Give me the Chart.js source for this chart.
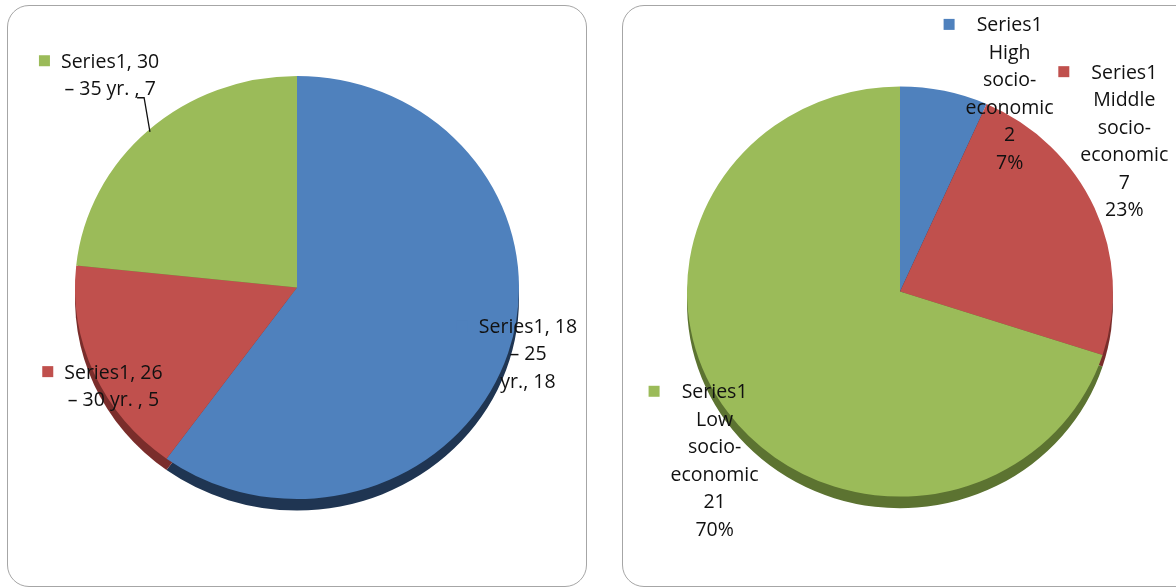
<!DOCTYPE html>
<html lang="en">
<head>
<meta charset="UTF-8">
<title>Pie charts</title>
<script src="https://cdn.jsdelivr.net/npm/chart.js"></script>
<style>
    body { margin: 0; width: 1176px; height: 587px; overflow: hidden; background: #fff; position: relative; }
    .box {
        position: absolute;
        top: 5px;
        height: 580px;
        border: 1.5px solid #a6a6a6;
        border-radius: 22px;
        background: #fff;
    }
    #boxLeft { left: 7px; width: 578px; }
    #boxRight { left: 622px; width: 580px; }
    .box canvas { position: absolute; left: 0; top: 0; }
</style>
</head>
<body>
<div class="box" id="boxLeft"><canvas id="ageChart" width="578" height="580"></canvas></div>
<div class="box" id="boxRight"><canvas id="sesChart" width="580" height="580"></canvas></div>

<script>
    const seriesName = 'Series1';
    const ageCategories = ['18 – 25 yr.', '26 – 30 yr.', '30 – 35 yr.'];
    const ageValues = [18, 5, 7];
    // data labels wrapped the way the original shows them
    const ageLabelLines = [
        ['Series1, 18', '– 25', 'yr., 18'],
        ['Series1, 26', '– 30 yr. , 5'],
        ['Series1, 30', '– 35 yr. , 7']
    ];
    const sesCategories = ['High socio-economic', 'Middle socio-economic', 'Low socio-economic'];
    const sesValues = [2, 7, 21];
    const sliceColors = ['#4F81BD', '#C0504D', '#9BBB59'];
    const rimColors = ['#1F3552', '#7A2D2B', '#5C7331'];

    const FONT = '500 19.5px "Open Sans", sans-serif';
    const LINE_H = 27.5;

    function sesLines(i) {
        const total = sesValues.reduce((a, b) => a + b, 0);
        const words = sesCategories[i].replace('-', '-\n').split(/[ \n]/);
        return [seriesName, ...words, String(sesValues[i]), Math.round(sesValues[i] / total * 100) + '%'];
    }

    // tilted look: squash the pie a little and put a darker rim under it
    const tiltPlugin = {
        id: 'tilt',
        beforeDatasetsDraw(chart, args, opts) {
            const ctx = chart.ctx;
            const arcs = chart.getDatasetMeta(0).data;
            const cx = arcs[0].x, cy = arcs[0].y;
            ctx.save();
            ctx.translate(cx, cy);
            ctx.scale(1, opts.squash);
            ctx.translate(-cx, -cy);
            arcs.forEach((arc, i) => {
                ctx.save();
                ctx.translate(0, 12);
                ctx.beginPath();
                ctx.moveTo(arc.x, arc.y);
                ctx.arc(arc.x, arc.y, arc.outerRadius, arc.startAngle, arc.endAngle);
                ctx.closePath();
                ctx.fillStyle = rimColors[i];
                ctx.fill();
                ctx.restore();
            });
        },
        afterDatasetsDraw(chart) {
            chart.ctx.restore();
        }
    };

    const labelPlugin = {
        id: 'sliceLabels',
        afterDatasetsDraw(chart, args, opts) {
            const ctx = chart.ctx;
            const sq = chart.options.plugins.tilt.squash;
            ctx.save();
            ctx.font = FONT;
            ctx.textAlign = 'center';
            ctx.textBaseline = 'middle';
            chart.getDatasetMeta(0).data.forEach((arc, i) => {
                const lines = opts.lines(i);
                const mid = (arc.startAngle + arc.endAngle) / 2;
                const a = mid + opts.shift[i] * Math.PI / 180;
                const cx = arc.x + Math.cos(a) * arc.outerRadius * opts.dist[i];
                const cy = arc.y + Math.sin(a) * arc.outerRadius * opts.dist[i] * sq;
                const top = cy - (lines.length - 1) * LINE_H / 2;
                const w = Math.max(...lines.map(l => ctx.measureText(l).width));
                // legend key square
                ctx.fillStyle = sliceColors[i];
                ctx.fillRect(cx - w / 2 - 22, top - 7, 11, 11);
                ctx.fillStyle = '#111';
                lines.forEach((l, k) => ctx.fillText(l, cx, top + k * LINE_H));
                if (opts.leader && opts.leader[i]) {
                    const ex = arc.x + Math.cos(mid) * arc.outerRadius * 0.99;
                    const ey = arc.y + Math.sin(mid) * arc.outerRadius * 0.99 * sq;
                    const ly = top + LINE_H + 8;
                    ctx.strokeStyle = '#111';
                    ctx.lineWidth = 1.3;
                    ctx.beginPath();
                    ctx.moveTo(ex, ey);
                    ctx.lineTo(cx + 34, ly);
                    ctx.lineTo(cx + 27, ly);
                    ctx.stroke();
                }
            });
            ctx.restore();
        }
    };

    function makePie(id, labels, values, padding, squash, labelOpts) {
        return new Chart(document.getElementById(id), {
            type: 'pie',
            data: {
                labels: labels,
                datasets: [{
                    data: values,
                    backgroundColor: sliceColors,
                    borderWidth: 0
                }]
            },
            options: {
                responsive: false,
                animation: false,
                layout: { padding: padding },
                plugins: {
                    legend: { display: false },
                    tooltip: { enabled: false },
                    tilt: { squash: squash },
                    sliceLabels: labelOpts
                }
            },
            plugins: [tiltPlugin, labelPlugin]
        });
    }

    makePie('ageChart', ageCategories, ageValues,
        { left: 67, right: 67, top: 59.5, bottom: 76.5 }, 0.953,
        {
            lines: i => ageLabelLines[i],
            shift: [-1, -5.6, 1.9],
            dist: [1.088, 0.951, 1.307],
            leader: [false, false, true]
        });

    makePie('sesChart', sesCategories, sesValues,
        { left: 64, right: 90, top: 72.5, bottom: 81.5 }, 0.963,
        {
            lines: sesLines,
            shift: [16.2, -10.7, -7.6],
            dist: [1.089, 1.281, 1.202]
        });
</script>
</body>
</html>
